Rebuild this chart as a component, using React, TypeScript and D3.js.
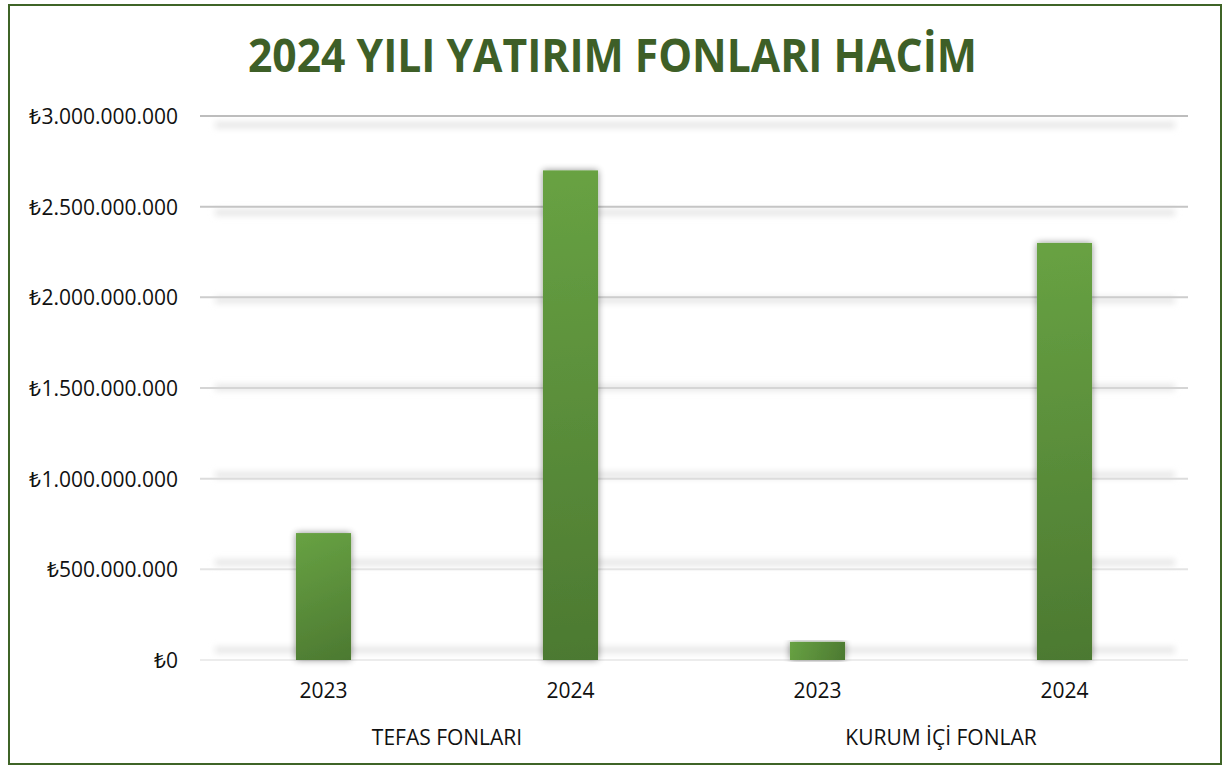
import * as d3 from "d3";

const groups = ["TEFAS FONLARI", "KURUM İÇİ FONLAR"];
const years = ["2023", "2024"];
const tefasValues = [700000000, 2700000000];
const kurumValues = [100000000, 2300000000];
const yTicks = [0, 500000000, 1000000000, 1500000000, 2000000000, 2500000000, 3000000000];

const W = 1226;
const H = 766;
const m = { left: 200, right: 1188, top: 116, bottom: 660 };

const trLocale = d3.formatLocale({
  decimal: ",",
  thousands: ".",
  grouping: [3],
  currency: ["₺", ""],
});
const fmt = trLocale.format("$,.0f");

const App = () => {
  const x0 = d3.scaleBand<string>().domain(groups).range([m.left, m.right]).padding(0);
  const x1 = d3
    .scaleBand<string>()
    .domain(years)
    .range([0, x0.bandwidth()])
    .paddingInner(0.777)
    .paddingOuter(0.3885);
  const y = d3.scaleLinear().domain([0, 3000000000]).range([m.bottom, m.top]);

  const rows = groups.flatMap((g, gi) =>
    years.map((yr, yi) => ({
      group: g,
      year: yr,
      value: (gi === 0 ? tefasValues : kurumValues)[yi],
    }))
  );

  // gridline colour and shadow offset change from top to bottom
  const lineColor = d3.scaleLinear<string>().domain([3000000000, 0]).range(["#bdbdbd", "#ececec"]);
  const shadowDy = d3.scaleLinear().domain([3000000000, 0]).range([9, -10]);

  return (
    <div style={{ position: "absolute", left: 0, top: 0 }}>
      <svg width={W} height={H} style={{ display: "block", background: "#fff" }}>
        <defs>
          <filter id="gridBlur" x="-5%" y="-300%" width="110%" height="700%">
            <feGaussianBlur stdDeviation="3" />
          </filter>
          <filter id="barShadow" x="-40%" y="-10%" width="180%" height="120%">
            <feGaussianBlur in="SourceAlpha" stdDeviation="3.5" />
            <feComponentTransfer>
              <feFuncA type="linear" slope="0.45" />
            </feComponentTransfer>
            <feMerge>
              <feMergeNode />
              <feMergeNode in="SourceGraphic" />
            </feMerge>
          </filter>
          {rows.map((d, i) => {
            const bx = x0(d.group)! + x1(d.year)!;
            const by = y(d.value);
            return (
              <linearGradient
                key={i}
                id={`barGrad${i}`}
                gradientUnits="userSpaceOnUse"
                x1={bx}
                y1={by}
                x2={bx + x1.bandwidth()}
                y2={y(0)}
              >
                <stop offset="0" stopColor="#68a243" />
                <stop offset="1" stopColor="#4c7931" />
              </linearGradient>
            );
          })}
        </defs>

        <rect x={9} y={5} width={1212} height={759} fill="#fff" stroke="#3f6427" strokeWidth={2} />

        <text
          x={612.5}
          y={72}
          textAnchor="middle"
          fontFamily="'Open Sans', sans-serif"
          fontWeight={700}
          fontSize={47}
          fill="#3e5f27"
          textLength={729}
          lengthAdjust="spacingAndGlyphs"
        >
          2024 YILI YATIRIM FONLARI HACİM
        </text>

        <g>
          {yTicks.map((t) => (
            <g key={t}>
              <rect
                x={m.left + 15}
                y={y(t) + shadowDy(t) - 3}
                width={m.right - m.left - 28}
                height={6}
                fill="#e4e4e4"
                filter="url(#gridBlur)"
              />
              <line x1={m.left} x2={m.right} y1={y(t)} y2={y(t)} stroke={lineColor(t)} strokeWidth={2} />
              <text
                x={178}
                y={y(t) + 8}
                textAnchor="end"
                fontFamily="'Open Sans', sans-serif"
                fontSize={21}
                fill="#111"
              >
                {fmt(t)}
              </text>
            </g>
          ))}
        </g>

        <g>
          {rows.map((d, i) => (
            <rect
              key={i}
              x={x0(d.group)! + x1(d.year)!}
              y={y(d.value)}
              width={x1.bandwidth()}
              height={y(0) - y(d.value)}
              fill={`url(#barGrad${i})`}
              filter="url(#barShadow)"
            />
          ))}
        </g>

        <g fontFamily="'Open Sans', sans-serif" fontSize={21} fill="#111" textAnchor="middle">
          {rows.map((d, i) => (
            <text key={i} x={x0(d.group)! + x1(d.year)! + x1.bandwidth() / 2} y={698}>
              {d.year}
            </text>
          ))}
          {groups.map((g) => (
            <text key={g} x={x0(g)! + x0.bandwidth() / 2} y={745}>
              {g}
            </text>
          ))}
        </g>
      </svg>
    </div>
  );
};

export default App;
